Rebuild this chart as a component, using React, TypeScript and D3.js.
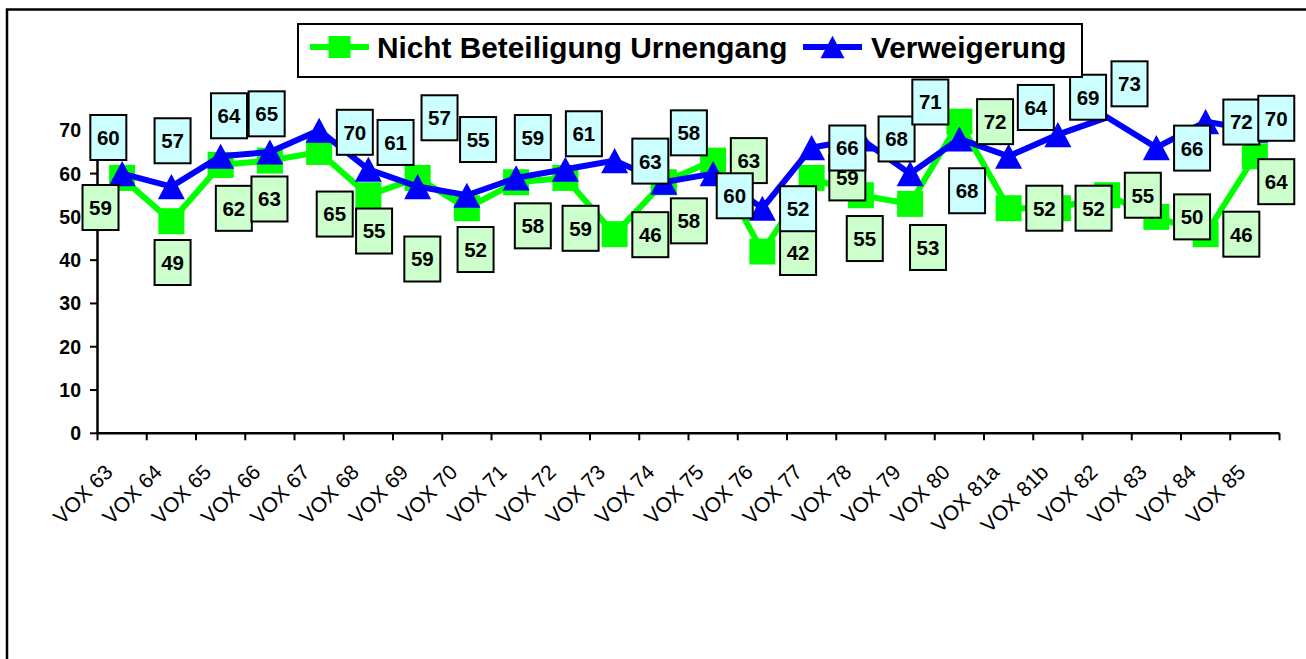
import React from 'react';
import * as d3 from 'd3';

const categories = [
  'VOX 63', 'VOX 64', 'VOX 65', 'VOX 66', 'VOX 67', 'VOX 68', 'VOX 69', 'VOX 70',
  'VOX 71', 'VOX 72', 'VOX 73', 'VOX 74', 'VOX 75', 'VOX 76', 'VOX 77', 'VOX 78',
  'VOX 79', 'VOX 80', 'VOX 81a', 'VOX 81b', 'VOX 82', 'VOX 83', 'VOX 84', 'VOX 85',
];

const nichtBeteiligung = [59, 49, 62, 63, 65, 55, 59, 52, 58, 59, 46, 58, 63, 42, 59, 55, 53, 72, 52, 52, 55, 50, 46, 64];
const nichtBeteiligungLabels = [59, 49, 62, 63, 65, 55, 59, 52, 58, 59, 46, 58, 63, 42, 59, 55, 53, 72, 52, 52, 55, 50, 46, 64];

const verweigerung = [60, 57, 64, 65, 70, 61, 57, 55, 59, 61, 63, 58, 60, 52, 66, 68, 60, 68, 64, 69, 73, 66, 72, 70];
const verweigerungLabels = [60, 57, 64, 65, 70, 61, 57, 55, 59, 61, 63, 58, 60, 52, 66, 68, 71, 68, 64, 69, 73, 66, 72, 70];
// categories where the Verweigerung marker is not drawn in the original
const verweigerungNoMarker = ['VOX 82'];

const yTicks = [0, 10, 20, 30, 40, 50, 60, 70];
const seriesNames = ['Nicht Beteiligung Urnengang', 'Verweigerung'];

// manual data-label placement (px, relative to the data point)
const greenLabelOffsets: [number, number][] = [
  [-21.6, 29.6], [1.2, 41.3], [13.2, 43.4], [-0.4, 38.4], [15.6, 62.1], [5.7, 35.8],
  [4.7, 81.1], [8.7, 41.3], [16.7, 43.6], [15.2, 50.4], [35.7, 0.5], [25, 38.6],
  [35.7, 0], [35.7, 1], [35.7, 0], [3.9, 43.3], [17.9, 43.6], [35.7, 0],
  [35.7, 0], [35.7, 0], [35.7, 0], [35.7, 0], [35.7, 0], [21.4, 25.4],
];
const blueLabelOffsets: [number, number][] = [
  [-13.8, -36.1], [1.2, -45.8], [8.4, -40.5], [-3.2, -38.1], [35.7, 2], [27.2, -26.8],
  [21.9, -68.8], [11.2, -55.7], [16.7, -40.4], [18.5, -35.5], [35.7, 0.5], [25, -49.4],
  [21.6, 22.2], [35.7, 0.5], [35.7, 0.4], [35.7, 0], [20.2, -71.6], [7.7, 51.8],
  [27.2, -48.8], [30.2, -37.4], [22.4, -33.5], [35.7, 0.5], [35.7, 0.4], [21.4, -12],
];

const GREEN = '#00FF00';
const BLUE = '#0000FF';
const GREEN_LABEL = '#CCFFCC';
const BLUE_LABEL = '#CCFFFF';
const FONT = '"Liberation Sans", Arial, Helvetica, sans-serif';

const W = 1306;
const H = 659;

export default function App() {
  const x = d3.scaleBand<string>().domain(categories).range([97.5, 1279.5]).padding(0);
  const y = d3.scaleLinear().domain([0, 70]).range([433.3, 130.3]);
  const bw = x.bandwidth();
  const cx = (i: number) => (x(categories[i]) as number) + bw / 2;

  const line = d3
    .line<number>()
    .x((_, i) => cx(i))
    .y((d) => y(d));

  const tri = (s: number) => `M0,${-s * 0.93}L${s},${s * 0.93}L${-s},${s * 0.93}Z`;

  const labelBox = (
    key: string,
    px: number,
    py: number,
    text: number,
    fill: string
  ) => (
    <g key={key} transform={`translate(${px},${py})`}>
      <rect x={-18} y={-22.5} width={36} height={45} fill={fill} stroke="#000" strokeWidth={2} />
      <text
        x={0}
        y={7.4}
        textAnchor="middle"
        fontFamily={FONT}
        fontWeight="bold"
        fontSize={20.5}
        fill="#000"
      >
        {text}
      </text>
    </g>
  );

  const tickPositions = [...categories.map((c) => x(c) as number), x.range()[1]];

  return (
    <svg
      width={W}
      height={H}
      style={{ position: 'absolute', left: 0, top: 0, background: '#fff' }}
    >
      <rect x={0} y={0} width={W} height={H} fill="#fff" />
      {/* chart area border */}
      <rect x={7} y={9.5} width={1400} height={700} fill="#fff" stroke="#000" strokeWidth={2.5} />

      {/* axes */}
      <line x1={97.5} x2={97.5} y1={y(0)} y2={y(70)} stroke="#000" strokeWidth={2.5} />
      <line x1={97.5} x2={1279.5} y1={y(0)} y2={y(0)} stroke="#000" strokeWidth={2.5} />
      {yTicks.map((t) => (
        <g key={`yt${t}`}>
          <line x1={90} x2={97.5} y1={y(t)} y2={y(t)} stroke="#000" strokeWidth={2} />
          <text
            x={81}
            y={y(t) + 7}
            textAnchor="end"
            fontFamily={FONT}
            fontWeight="bold"
            fontSize={19.5}
            fill="#000"
          >
            {t}
          </text>
        </g>
      ))}
      {tickPositions.map((tx, i) => (
        <line key={`xt${i}`} x1={tx} x2={tx} y1={y(0)} y2={y(0) + 7} stroke="#000" strokeWidth={2} />
      ))}
      {categories.map((c, i) => (
        <text
          key={`xl${c}`}
          transform={`translate(${cx(i) - 8},${473.5}) rotate(-45)`}
          textAnchor="end"
          fontFamily={FONT}
          fontSize={21}
          fill="#000"
        >
          {c}
        </text>
      ))}

      {/* green series */}
      <path d={line(nichtBeteiligung) || ''} fill="none" stroke={GREEN} strokeWidth={6} />
      {nichtBeteiligung.map((v, i) => (
        <rect key={`gm${i}`} x={cx(i) - 13} y={y(v) - 13} width={26} height={26} fill={GREEN} />
      ))}

      {/* blue series */}
      <path d={line(verweigerung) || ''} fill="none" stroke={BLUE} strokeWidth={6} />
      {verweigerung.map((v, i) =>
        verweigerungNoMarker.includes(categories[i]) ? null : (
          <path key={`bm${i}`} d={tri(13.5)} transform={`translate(${cx(i)},${y(v)})`} fill={BLUE} />
        )
      )}

      {/* data labels */}
      {nichtBeteiligungLabels.map((v, i) =>
        labelBox(
          `gl${i}`,
          cx(i) + greenLabelOffsets[i][0],
          y(nichtBeteiligung[i]) + greenLabelOffsets[i][1],
          v,
          GREEN_LABEL
        )
      )}
      {verweigerungLabels.map((v, i) =>
        labelBox(
          `bl${i}`,
          cx(i) + blueLabelOffsets[i][0],
          y(verweigerung[i]) + blueLabelOffsets[i][1],
          v,
          BLUE_LABEL
        )
      )}

      {/* legend */}
      <g>
        <rect x={298} y={24} width={784} height={53} fill="#fff" stroke="#000" strokeWidth={2} />
        <line x1={310} x2={369} y1={47} y2={47} stroke={GREEN} strokeWidth={6} />
        <rect x={339.5 - 11} y={47 - 11} width={22} height={22} fill={GREEN} />
        <text x={377} y={58} fontFamily={FONT} fontWeight="bold" fontSize={29.8} fill="#000">
          {seriesNames[0]}
        </text>
        <line x1={803} x2={862} y1={47} y2={47} stroke={BLUE} strokeWidth={6} />
        <path d={tri(12)} transform={`translate(832.5,47)`} fill={BLUE} />
        <text x={871} y={58} fontFamily={FONT} fontWeight="bold" fontSize={29.8} fill="#000">
          {seriesNames[1]}
        </text>
      </g>
    </svg>
  );
}
